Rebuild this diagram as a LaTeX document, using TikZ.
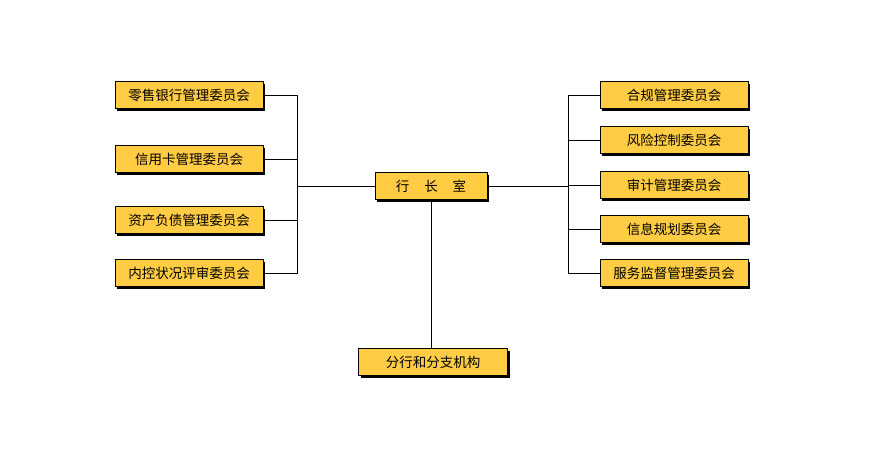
\documentclass[tikz,border=0pt]{standalone}
\usepackage{fontspec}
\setmainfont{Noto Sans CJK SC}
\usetikzlibrary{positioning, shadows}

\definecolor{boxgold}{RGB}{255,204,68}

\begin{document}
\begin{tikzpicture}[
      x=1pt, y=-1pt,
      committee/.style={rectangle, draw, line width=0.6pt, fill=boxgold,
        minimum width=148pt, minimum height=27pt, inner sep=0pt,
        font=\fontsize{13.5}{15}\selectfont,
        drop shadow={shadow xshift=2pt, shadow yshift=-2pt, fill=black, opacity=1}},
      link/.style={draw, line width=0.6pt}
    ]
    \useasboundingbox (0,0) rectangle (880,450);

    % Head office
    \node[committee, minimum width=112pt] (hq) at (431,186) {行\hspace{1.1em}长\hspace{1.1em}室};

    % Left committees
    \node[committee] (l1) at (189,95) {零售银行管理委员会};
    \node[committee] (l2) at (189,159) {信用卡管理委员会};
    \node[committee] (l3) at (189,220) {资产负债管理委员会};
    \node[committee] (l4) at (189,273) {内控状况评审委员会};

    % Right committees
    \node[committee] (r1) at (674,95) {合规管理委员会};
    \node[committee] (r2) at (674,140) {风险控制委员会};
    \node[committee] (r3) at (674,185) {审计管理委员会};
    \node[committee] (r4) at (674,229) {信息规划委员会};
    \node[committee] (r5) at (674,273) {服务监督管理委员会};

    % Branches
    \node[committee, minimum width=149pt] (branch) at (433,362) {分行和分支机构};

    % Bus points
    \coordinate (lbus) at (297,186);
    \coordinate (rbus) at (568,186);

    % Left connectors
    \foreach \n in {l1,l2,l3,l4}
      \draw[link] (\n.east) -| (lbus);
    \draw[link] (lbus) -- (hq.west);

    % Right connectors
    \foreach \n in {r1,r2,r3,r4,r5}
      \draw[link] (\n.west) -| (rbus);
    \draw[link] (rbus) -- (hq.east);

    % Down to branches
    \draw[link] (hq.south) -- (hq.south |- branch.north);

  \end{tikzpicture}
\end{document}
